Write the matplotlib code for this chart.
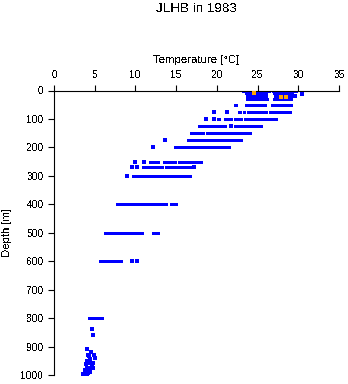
import matplotlib
matplotlib.use('Agg')
import matplotlib.pyplot as plt

# runs of closely spaced observations at one depth: depth [m], start and end temperature [degC]
seg_depth = [0, 0,
             10, 10,
             20, 20,
             30, 30,
             50, 50, 50,
             75, 75, 75, 75, 75, 75,
             100, 100, 100, 100,
             125, 125, 125,
             150, 150, 150,
             175, 175, 175,
             200, 200, 200,
             250, 250, 250,
             270, 270, 270, 270,
             300, 300, 300, 300, 300,
             400, 400, 400,
             500, 500, 500,
             600,
             800]
seg_tmin = [23.1, 26.8,
            23.5, 26.9,
            23.6, 27.0,
            23.6, 26.9,
            22.1, 23.5, 26.7,
            22.6, 23.2, 23.7, 24.8, 26.4, 28.3,
            20.0, 20.9, 22.1, 23.3,
            17.7, 18.7, 22.1,
            16.7, 17.7, 18.7,
            16.3, 19.4, 20.1,
            14.7, 16.2, 18.3,
            11.7, 13.4, 15.2,
            10.8, 12.4, 13.0, 13.6,
            9.6, 11.2, 12.0, 12.9, 13.9,
            7.6, 12.5, 14.3,
            6.1, 6.8, 12.0,
            5.5,
            4.2]
seg_tmax = [26.5, 29.8,
            26.2, 29.4,
            26.1, 29.2,
            26.3, 29.2,
            22.5, 26.0, 29.2,
            23.0, 23.5, 24.7, 26.1, 28.1, 29.1,
            20.4, 21.9, 23.1, 27.4,
            18.6, 21.1, 25.6,
            17.6, 18.4, 24.2,
            19.3, 20.0, 23.1,
            16.1, 18.2, 21.6,
            12.9, 15.0, 18.2,
            12.3, 12.9, 13.4, 16.8,
            11.1, 11.9, 12.8, 13.8, 16.8,
            12.4, 13.9, 15.1,
            6.6, 10.9, 12.9,
            8.4,
            6.0]

# single observations
pt_depth = [11, 18, 75, 75, 100, 100, 125, 175, 200, 250, 250, 270, 270, 270,
            300, 600, 600, 838, 859,
            908, 918, 928, 928, 934, 939, 943, 951, 957, 957, 963, 967,
            975, 975, 975, 983, 983, 990, 990, 993, 998, 998]
pt_temp = [30.5, 29.6, 19.6, 21.3, 18.7, 19.6, 21.7, 13.6, 12.1, 9.9, 11.0, 9.6, 10.2, 17.2,
           9.0, 9.55, 10.25, 4.7, 4.8,
           4.1, 4.55, 4.18, 4.91, 4.34, 5.04, 4.42, 4.09, 4.42, 4.83, 3.93, 4.63,
           4.0, 4.5, 4.83, 3.81, 4.34, 3.93, 4.42, 4.22, 3.6, 4.09]

# highlighted observations
hl_depth = [10, 22, 22]
hl_temp = [24.6, 27.9, 28.5]

plt.rcParams['font.family'] = ['Liberation Sans', 'DejaVu Sans']
plt.rcParams['text.antialiased'] = False
plt.rcParams['lines.antialiased'] = False

fig = plt.figure(figsize=(3.48, 3.84), dpi=100)
ax = fig.add_axes([54 / 348, 1 - 375 / 384, 285 / 348, 284.5 / 384])

runs = ax.hlines(seg_depth, seg_tmin, seg_tmax, colors='#0000ff', linewidth=1.9,
                 antialiased=False)
runs.set_capstyle('butt')
ax.scatter(pt_temp, pt_depth, marker='s', s=4.7, color='#0000ff', linewidths=0,
           clip_on=False, antialiased=True, zorder=3)
ax.scatter(hl_temp, hl_depth, marker='s', s=4.7, color='#ffa500', linewidths=0,
           antialiased=True, zorder=4)

ax.set_xlim(0, 35)
ax.set_ylim(1000, 0)
ax.set_xticks(range(0, 36, 5))
ax.set_yticks(range(0, 1001, 100))
ax.xaxis.tick_top()
ax.spines['right'].set_visible(False)
ax.spines['bottom'].set_visible(False)
for side in ('top', 'left'):
    ax.spines[side].set_linewidth(0.8)
ax.tick_params(direction='out', length=4.3, width=0.8, labelsize=7.4, pad=3.2)

fig.text(196.5 / 348, 1 - 8.5 / 384, 'JLHB in 1983', ha='center', va='center', fontsize=9.6)
fig.text(196.5 / 348, 1 - 60 / 384, 'Temperature [°C]', ha='center', va='center', fontsize=8.2)
fig.text(6.5 / 348, 1 - 232.5 / 384, 'Depth [m]', ha='center', va='center',
         rotation=90, fontsize=8.2)

fig.savefig('out.png', dpi=100)
